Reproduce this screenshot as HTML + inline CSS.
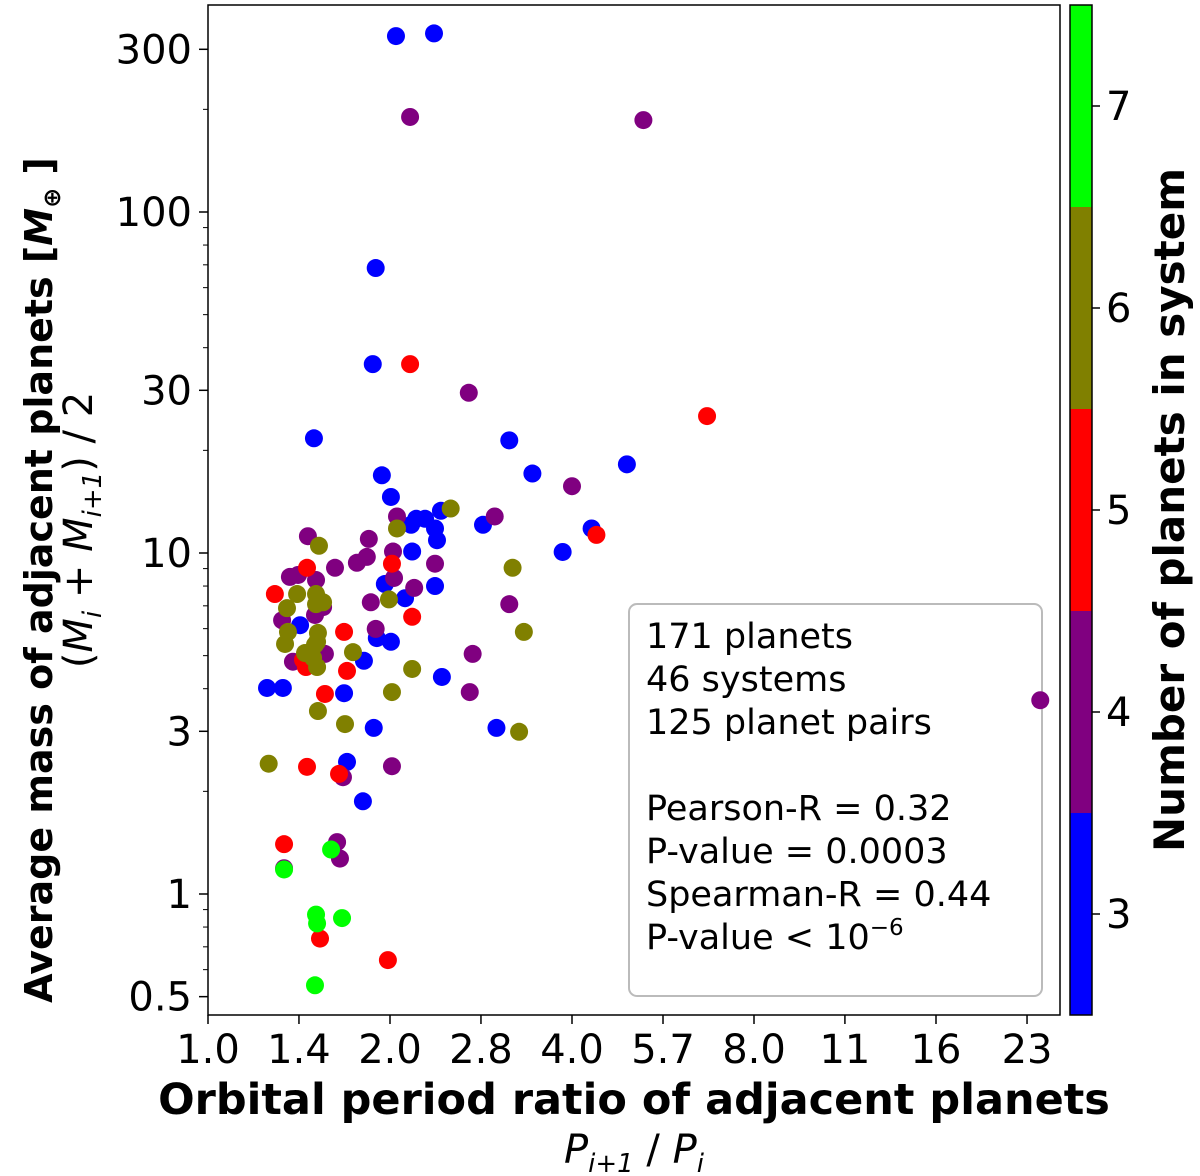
<!DOCTYPE html>
<html><head><meta charset="utf-8"><style>
body{margin:0;background:#fff;}
svg{display:block;font-family:"DejaVu Sans","Liberation Sans",sans-serif;}
</style></head><body>
<svg id="chart" width="1200" height="1176" xmlns="http://www.w3.org/2000/svg">
<g>
<rect x="629" y="604" width="413" height="392" rx="8" fill="#fff" stroke="#bbb" stroke-width="2"/>
<g font-size="35" fill="#000">
<text x="646" y="648">171 planets</text>
<text x="646" y="691">46 systems</text>
<text x="646" y="734">125 planet pairs</text>
<text x="646" y="820">Pearson-R = 0.32</text>
<text x="646" y="863">P-value = 0.0003</text>
<text x="646" y="906">Spearman-R = 0.44</text>
<text x="646" y="949">P-value &lt; 10<tspan font-size="23" dy="-14">−6</tspan></text>
</g></g>
<g id="marks"></g>
<rect x="208" y="5" width="852" height="1010" fill="none" stroke="#000" stroke-width="1.5"/>
<g id="axes"></g>
<g id="cbar"></g>
<text transform="translate(52,580) rotate(-90)" text-anchor="middle" font-size="38" font-weight="bold">Average mass of adjacent planets  [<tspan font-style="italic">M</tspan><tspan font-size="24" dy="8">⊕</tspan><tspan dy="-8"> ]</tspan></text>
<text transform="translate(92,530) rotate(-90)" text-anchor="middle" font-size="40">(<tspan font-style="italic">M</tspan><tspan font-size="26" dy="9" font-style="italic">i</tspan><tspan dy="-9"> + </tspan><tspan font-style="italic">M</tspan><tspan font-size="26" dy="9" font-style="italic">i+1</tspan><tspan dy="-9">) / 2</tspan></text>
<text x="634" y="1114" text-anchor="middle" font-size="43" font-weight="bold">Orbital period ratio of adjacent planets</text>
<text x="634" y="1163" text-anchor="middle" font-size="40"><tspan font-style="italic">P</tspan><tspan font-size="26" dy="9" font-style="italic">i+1</tspan><tspan dy="-9"> / </tspan><tspan font-style="italic">P</tspan><tspan font-size="26" dy="9" font-style="italic">i</tspan></text>
<text transform="translate(1184,510) rotate(-90)" text-anchor="middle" font-size="42" font-weight="bold">Number of planets in system</text>
</svg>
<script>
const ratio3=[2.046,2.365,1.894,1.873,1.497,3.15,4.93,3.44,1.939,2.007,2.428,2.21,2.286,2.167,2.374,2.392,2.85,4.31,2.176,3.86,2.374,1.961,2.118,1.42,1.902,2.007,1.811,1.252,1.33,1.679,2.437,3.0,1.88,1.698,1.804];
const mass3=[328,334,68.5,35.8,21.7,21.4,18.2,17.1,16.9,14.6,13.3,12.6,12.6,12.1,11.8,10.9,12.1,11.8,10.1,10.07,8.0,8.11,7.37,6.14,5.63,5.49,4.83,4.02,4.02,3.88,4.33,3.07,3.07,2.44,1.87];
const ratio4=[2.159,5.25,2.7,4.0,23.8,2.054,2.98,1.463,1.845,1.831,1.763,1.622,2.023,2.374,1.366,1.409,1.509,2.031,2.193,1.859,3.15,1.55,1.503,1.326,1.894,1.561,1.382,2.74,2.71,2.015,1.672,1.635,1.653,1.336];
const mass4=[190,186,29.5,15.7,3.7,12.8,12.8,11.2,11.0,9.74,9.36,9.05,10.1,9.3,8.51,8.62,8.33,8.45,7.9,7.17,7.08,6.94,6.58,6.35,5.99,5.06,4.8,5.06,3.91,2.37,2.2,1.42,1.27,1.19];
const ratio5=[2.159,6.69,4.39,1.458,2.015,1.29,2.176,1.679,1.452,1.698,1.561,1.458,1.647,1.336,1.532,1.984,1.436];
const mass5=[35.8,25.2,11.3,9.05,9.3,7.58,6.5,5.87,4.63,4.51,3.86,2.36,2.25,1.4,0.74,0.64,4.86];
const ratio6=[2.52,2.054,1.526,3.19,1.404,1.509,1.55,1.351,1.509,1.992,3.33,1.356,1.341,1.52,1.515,1.737,1.492,1.515,1.447,2.176,2.015,1.52,1.685,3.27,1.26,1.503];
const mass6=[13.5,11.8,10.5,9.05,7.58,7.58,7.17,6.89,7.08,7.31,5.87,5.87,5.41,5.83,5.49,5.12,4.93,4.63,5.09,4.57,3.91,3.44,3.15,2.99,2.41,5.38];
const ratio7=[1.598,1.336,1.509,1.515,1.666,1.503];
const mass7=[1.35,1.18,0.87,0.82,0.85,0.54];
const xTicks=[1.0,1.414,2.0,2.828,4.0,5.657,8.0,11.31,16.0,22.63];
const xTickLabels=["1.0","1.4","2.0","2.8","4.0","5.7","8.0","11","16","23"];
const yTicks=[0.5,1,3,10,30,100,300];
const yTickLabels=["0.5","1","3","10","30","100","300"];
const cbarTicks=[3,4,5,6,7];
const cbarColors=["#0000ff","#800080","#ff0000","#808000","#00ff00"];

const NS="http://www.w3.org/2000/svg";
function xs(v){return 208+182*Math.log2(v);}
function ys(v){return 894-341*Math.log10(v);}
function mk(tag,attrs,parent){const e=document.createElementNS(NS,tag);for(const k in attrs)e.setAttribute(k,attrs[k]);parent.appendChild(e);return e;}
const marks=document.getElementById('marks');
const series=[[ratio3,mass3,0],[ratio4,mass4,1],[ratio5,mass5,2],[ratio6,mass6,3],[ratio7,mass7,4]];
series.forEach(s=>{
  s[0].forEach((r,i)=>{
    const c=mk('circle',{cx:xs(r),cy:ys(s[1][i]),r:9,fill:cbarColors[s[2]]},marks);
    
    
  });
});
const ax=document.getElementById('axes');
xTicks.forEach((t,i)=>{
  const x=xs(t);
  const l=mk('line',{x1:x,x2:x,y1:1015,y2:1024,stroke:'#000','stroke-width':1.5},ax);
  
  
  const tx=mk('text',{x:x,y:1063,'text-anchor':'middle','font-size':40},ax);
  tx.textContent=xTickLabels[i];
  
  
});
yTicks.forEach((t,i)=>{
  const y=ys(t);
  const l=mk('line',{x1:199,x2:208,y1:y,y2:y,stroke:'#000','stroke-width':1.5},ax);
  
  
  const tx=mk('text',{x:192,y:y+14,'text-anchor':'end','font-size':40},ax);
  tx.textContent=yTickLabels[i];
  
  
});
for(let d=-1;d<=2;d++){for(let k=2;k<=9;k++){const v=k*Math.pow(10,d);if(v<0.48||v>360)continue;if(yTicks.includes(v))continue;const y=ys(v);
  const l=mk('line',{x1:203,x2:208,y1:y,y2:y,stroke:'#000','stroke-width':1},ax);
  
  
}}
const cb=document.getElementById('cbar');
const cTop=5,cBot=1015,cx0=1070,cw=22;
function cy(v){return cBot-(v-2.5)/5*(cBot-cTop);}
cbarTicks.forEach((t,i)=>{
  const r=mk('rect',{x:cx0,y:cy(t+0.5),width:cw,height:cy(t-0.5)-cy(t+0.5),fill:cbarColors[i]},cb);
  
  
  const l=mk('line',{x1:cx0+cw,x2:cx0+cw+8,y1:cy(t),y2:cy(t),stroke:'#000','stroke-width':1.5},cb);
  
  
  const tx=mk('text',{x:cx0+cw+14,y:cy(t)+14,'font-size':40},cb);
  tx.textContent=String(t);
  
  
});
const fr=mk('rect',{x:cx0,y:cTop,width:cw,height:cBot-cTop,fill:'none',stroke:'#000','stroke-width':1.5},cb);


</script>
</body></html>
